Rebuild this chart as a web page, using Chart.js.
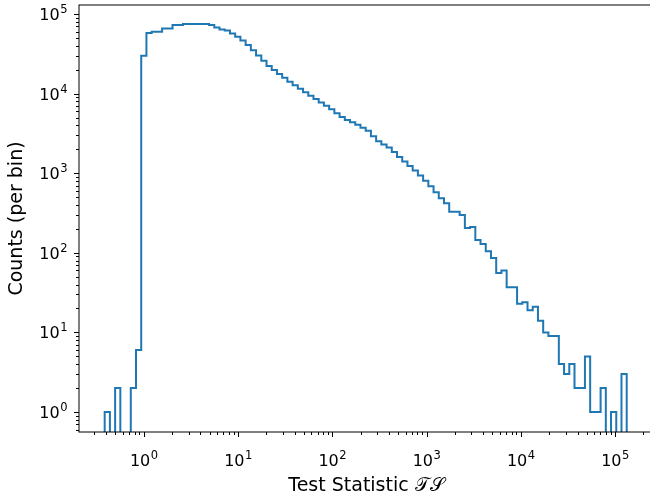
<!DOCTYPE html>
<html>
<head>
<meta charset="utf-8">
<script src="https://cdn.jsdelivr.net/npm/chart.js@4.4.1/dist/chart.umd.min.js"></script>
<style>
  html, body { margin: 0; padding: 0; background: #fff; overflow: hidden; }
  #wrap { width: 660px; height: 493px; }
</style>
</head>
<body>
<div id="wrap"><canvas id="histChart"></canvas></div>
<script>
// Histograma: 100 bins log-espaciados entre binMin y binMax
const binMin = 0.385;
const binMax = 1.33e5;
const nBins = 100;

// Conteos por bin
const counts = [
  1, 0, 2, 0, 0, 2, 6, 30000, 58000, 60000,
  60000, 66000, 66000, 73000, 73000, 75000, 75000, 75000, 75000, 75000,
  73000, 68000, 64000, 62000, 57000, 52000, 46500, 40800, 35100, 30100,
  25900, 22300, 19800, 17700, 15800, 14100, 12800, 11500, 10400, 9440,
  8560, 7760, 7030, 6350, 5690, 5080, 4660, 4380, 4070, 3730,
  3420, 2920, 2520, 2300, 2100, 1850, 1600, 1400, 1230, 1080,
  935, 805, 687, 577, 485, 420, 328, 328, 298, 205,
  211, 145, 129, 105, 86, 56, 60, 37, 37, 23,
  24, 19, 21, 14, 10, 9, 9, 4, 3, 4,
  2, 2, 5, 1, 1, 2, 0, 1, 0, 3
];

// Ticks mayores de ambos ejes
const xTickExps = [0, 1, 2, 3, 4, 5];
const yTickExps = [0, 1, 2, 3, 4, 5];

// Límites de los ejes
const xMin = 0.2056, xMax = 3.0e5;
const yMin = 0.561, yMax = 1.30e5;

const FONT = "'DejaVu Sans', 'Liberation Sans', sans-serif";

// Bordes de los bins y puntos del contorno escalonado
const logLo = Math.log10(binMin), logHi = Math.log10(binMax);
const edges = [];
for (let i = 0; i <= nBins; i++) {
  edges.push(Math.pow(10, logLo + (logHi - logLo) * i / nBins));
}
const floorY = yMin / 10; // los bins vacíos caen bajo el eje
const points = [{ x: edges[0], y: floorY }];
counts.forEach((c, i) => points.push({ x: edges[i], y: c > 0 ? c : floorY }));
points.push({ x: edges[nBins], y: counts[nBins - 1] > 0 ? counts[nBins - 1] : floorY });
points.push({ x: edges[nBins], y: floorY });

// Dibuja "10^exp" con superíndice
function drawPow(ctx, exp, x, baseline, align) {
  ctx.font = '16px ' + FONT;
  const wb = ctx.measureText('10').width;
  ctx.font = '11.5px ' + FONT;
  const we = ctx.measureText(String(exp)).width;
  const w = wb + we;
  const left = align === 'center' ? x - w / 2 : x - w;
  ctx.textAlign = 'left';
  ctx.textBaseline = 'alphabetic';
  ctx.font = '16px ' + FONT;
  ctx.fillText('10', left, baseline);
  ctx.font = '11.5px ' + FONT;
  ctx.fillText(String(exp), left + wb + 0.5, baseline - 7);
}

// Ejes al estilo matplotlib: spines, ticks mayores/menores, etiquetas
const mplAxes = {
  id: 'mplAxes',
  afterDatasetsDraw(chart) {
    const { ctx, chartArea: a, scales: { x, y } } = chart;
    ctx.save();
    ctx.strokeStyle = '#000';
    ctx.fillStyle = '#000';
    ctx.lineWidth = 1;

    // spines
    ctx.strokeRect(a.left, a.top, a.right - a.left, a.bottom - a.top);

    // ticks
    ctx.beginPath();
    for (let k = -1; k <= 6; k++) {
      for (let m = 1; m <= 9; m++) {
        const v = m * Math.pow(10, k);
        const len = m === 1 ? 5 : 3;
        if (v >= xMin && v <= xMax) {
          const px = Math.round(x.getPixelForValue(v)) + 0.5;
          ctx.moveTo(px, a.bottom);
          ctx.lineTo(px, a.bottom + len);
        }
        if (v >= yMin && v <= yMax) {
          const py = Math.round(y.getPixelForValue(v)) + 0.5;
          ctx.moveTo(a.left, py);
          ctx.lineTo(a.left - len, py);
        }
      }
    }
    ctx.stroke();

    // etiquetas de ticks
    xTickExps.forEach(e => {
      const px = x.getPixelForValue(Math.pow(10, e));
      drawPow(ctx, e, px, 466, 'center');
    });
    yTickExps.forEach(e => {
      const py = y.getPixelForValue(Math.pow(10, e));
      drawPow(ctx, e, a.left - 12, py + 6, 'right');
    });

    // título eje X (centrado en el eje original, que se corta a la derecha)
    ctx.font = '19px ' + FONT;
    const t1 = 'Test Statistic ';
    const t2 = '\u{1D4AF}\u{1D4AE}';
    const w1 = ctx.measureText(t1).width;
    const w2 = ctx.measureText(t2).width;
    const cx = 366.5;
    ctx.textAlign = 'left';
    ctx.textBaseline = 'alphabetic';
    ctx.fillText(t1, cx - (w1 + w2) / 2, 491);
    ctx.fillText(t2, cx - (w1 + w2) / 2 + w1, 491);

    // título eje Y
    ctx.translate(17, (a.top + a.bottom) / 2);
    ctx.rotate(-Math.PI / 2);
    ctx.textAlign = 'center';
    ctx.textBaseline = 'middle';
    ctx.fillText('Counts (per bin)', 0, 0);
    ctx.restore();
  }
};

const ctx = document.getElementById('histChart').getContext('2d');
const histChart = new Chart(ctx, {
  type: 'line',
  data: {
    datasets: [{
      data: points,
      borderColor: '#1f77b4',
      borderWidth: 2,
      pointRadius: 0,
      stepped: 'before',
      fill: false
    }]
  },
  options: {
    responsive: true,
    maintainAspectRatio: false,
    animation: false,
    layout: { padding: { top: 5, right: 0, bottom: 0, left: 0 } },
    plugins: { legend: { display: false }, tooltip: { enabled: false } },
    scales: {
      x: {
        type: 'logarithmic',
        min: xMin,
        max: xMax,
        grid: { display: false },
        border: { display: false },
        ticks: { display: false },
        afterFit(scale) { scale.height = 61; }
      },
      y: {
        type: 'logarithmic',
        min: yMin,
        max: yMax,
        grid: { display: false },
        border: { display: false },
        ticks: { display: false },
        afterFit(scale) { scale.width = 79; }
      }
    }
  },
  plugins: [mplAxes]
});
</script>
</body>
</html>
